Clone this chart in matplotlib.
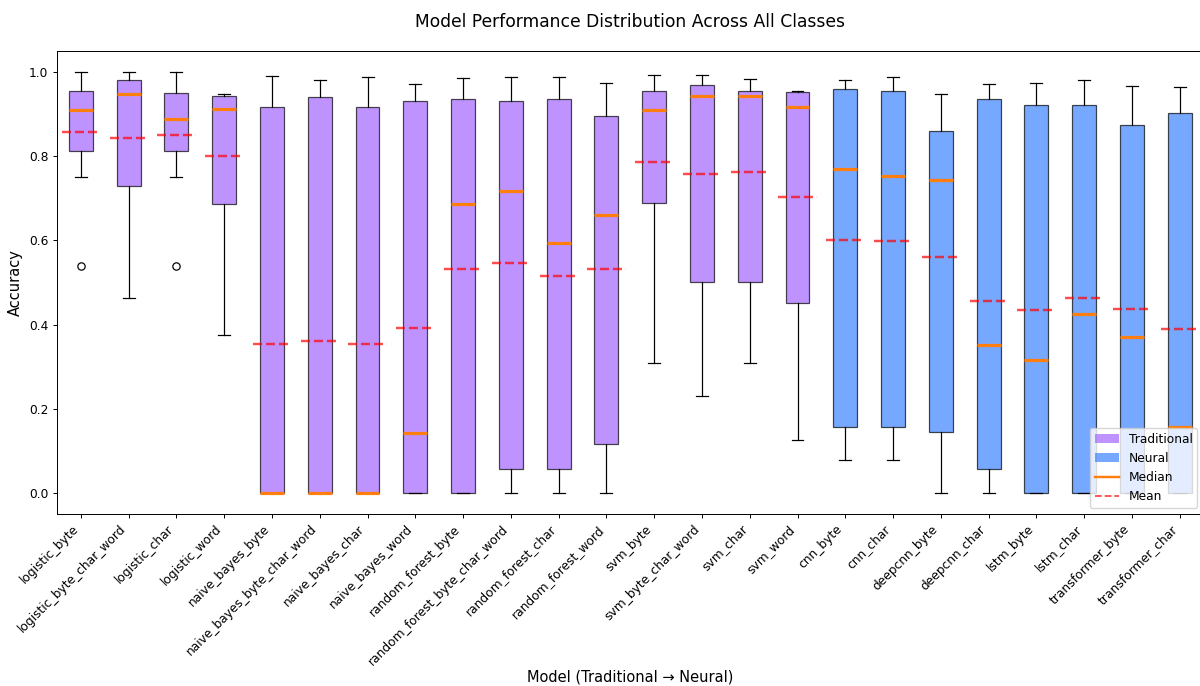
import matplotlib.pyplot as plt
from matplotlib.patches import Patch
from matplotlib.lines import Line2D

MODELS = [
    "logistic_byte", "logistic_byte_char_word", "logistic_char", "logistic_word",
    "naive_bayes_byte", "naive_bayes_byte_char_word", "naive_bayes_char", "naive_bayes_word",
    "random_forest_byte", "random_forest_byte_char_word", "random_forest_char", "random_forest_word",
    "svm_byte", "svm_byte_char_word", "svm_char", "svm_word",
    "cnn_byte", "cnn_char", "deepcnn_byte", "deepcnn_char",
    "lstm_byte", "lstm_char", "transformer_byte", "transformer_char",
]
N_TRADITIONAL = 16  # first 16 models are classic ML, the rest are neural nets

# per-model accuracy summary across all classes
WHISKER_LO = [0.751, 0.462, 0.751, 0.375, 0.0, 0.0, 0.0, 0.0,
              0.0, 0.0, 0.0, 0.0, 0.308, 0.231, 0.308, 0.126,
              0.0775, 0.0775, 0.0, 0.0, 0.0, 0.0, 0.0, 0.0]
Q1 = [0.813, 0.730, 0.813, 0.686, 0.0, 0.0, 0.0, 0.0,
      0.0, 0.0577, 0.0577, 0.1155, 0.688, 0.501, 0.501, 0.452,
      0.157, 0.157, 0.146, 0.0577, 0.0, 0.0, 0.0, 0.0]
MEDIAN = [0.910, 0.948, 0.889, 0.913, 0.0, 0.0, 0.0, 0.1425,
          0.686, 0.717, 0.593, 0.660, 0.910, 0.943, 0.943, 0.917,
          0.770, 0.754, 0.743, 0.352, 0.316, 0.425, 0.370, 0.1575]
Q3 = [0.954, 0.980, 0.949, 0.944, 0.917, 0.941, 0.918, 0.930,
      0.935, 0.931, 0.937, 0.895, 0.956, 0.970, 0.956, 0.953,
      0.960, 0.954, 0.861, 0.936, 0.922, 0.922, 0.874, 0.903]
WHISKER_HI = [1.0, 1.0, 1.0, 0.948, 0.990, 0.982, 0.987, 0.972,
              0.985, 0.987, 0.987, 0.974, 0.992, 0.992, 0.983, 0.956,
              0.980, 0.987, 0.948, 0.972, 0.975, 0.982, 0.967, 0.964]
MEAN = [0.858, 0.843, 0.850, 0.800, 0.355, 0.360, 0.355, 0.391,
        0.532, 0.547, 0.516, 0.533, 0.786, 0.757, 0.763, 0.704,
        0.602, 0.599, 0.560, 0.455, 0.435, 0.462, 0.438, 0.389]
OUTLIERS = {"logistic_byte": [0.538], "logistic_char": [0.538]}

TRAD_COLOR = "#a466ff"
NEURAL_COLOR = "#3e83ff"
S = 0.88  # overall scale for fonts and strokes

plt.rcParams.update({
    "font.size": 10 * S,
    "axes.linewidth": 0.8 * S,
    "xtick.major.size": 3.5 * S,
    "ytick.major.size": 3.5 * S,
    "xtick.major.width": 0.8 * S,
    "ytick.major.width": 0.8 * S,
    "xtick.major.pad": 3.5 * S,
    "ytick.major.pad": 3.5 * S,
})


def build_stats():
    stats = []
    for i, name in enumerate(MODELS):
        stats.append({
            "label": name,
            "whislo": WHISKER_LO[i],
            "q1": Q1[i],
            "med": MEDIAN[i],
            "q3": Q3[i],
            "whishi": WHISKER_HI[i],
            "mean": MEAN[i],
            "fliers": OUTLIERS.get(name, []),
        })
    return stats


def main():
    fig, ax = plt.subplots(figsize=(12, 6.86), dpi=100)
    fig.subplots_adjust(left=0.0475, right=1.003, top=0.9257, bottom=0.2507)

    positions = list(range(1, len(MODELS) + 1))
    bp = ax.bxp(build_stats(), positions=positions, widths=0.5,
                patch_artist=True, showmeans=False,
                boxprops=dict(linewidth=S),
                whiskerprops=dict(linewidth=S),
                capprops=dict(linewidth=S),
                flierprops=dict(markersize=6 * S, markeredgewidth=S),
                medianprops=dict(color="#ff7f0e", linewidth=2.3))

    for i, box in enumerate(bp["boxes"]):
        box.set_facecolor(TRAD_COLOR if i < N_TRADITIONAL else NEURAL_COLOR)
        box.set_alpha(0.7)

    # mean markers as dashed red lines slightly wider than the boxes
    for pos, m in zip(positions, MEAN):
        ax.plot([pos - 0.4, pos + 0.4], [m, m], color="red",
                linestyle="--", linewidth=2 * S, alpha=0.7)

    ax.set_xticks(positions)
    ax.set_xticklabels(MODELS, rotation=45, ha="right")
    ax.set_ylim(-0.05, 1.05)
    ax.set_xlim(0.5, len(MODELS) + 0.5)
    ax.set_title("Model Performance Distribution Across All Classes",
                 fontsize=14 * S, pad=20 * S)
    ax.set_xlabel("Model (Traditional \u2192 Neural)", fontsize=12 * S, labelpad=1)
    ax.set_ylabel("Accuracy", fontsize=12 * S)

    handles = [
        Patch(facecolor=TRAD_COLOR, alpha=0.7, label="Traditional"),
        Patch(facecolor=NEURAL_COLOR, alpha=0.7, label="Neural"),
        Line2D([0], [0], color="#ff7f0e", linewidth=2 * S, label="Median"),
        Line2D([0], [0], color="red", linestyle="--", linewidth=1.5 * S,
               alpha=0.7, label="Mean"),
    ]
    ax.legend(handles=handles, loc="lower right")

    fig.savefig("out.png", dpi=100)


if __name__ == "__main__":
    main()
